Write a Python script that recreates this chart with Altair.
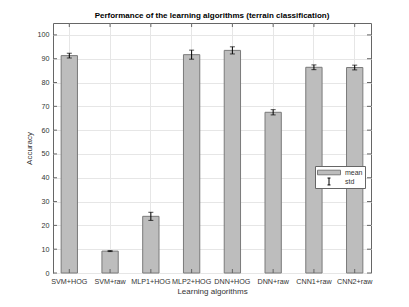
import altair as alt
import pandas as pd

algorithms = ["SVM+HOG", "SVM+raw", "MLP1+HOG", "MLP2+HOG", "DNN+HOG", "DNN+raw", "CNN1+raw", "CNN2+raw"]
mean_acc = [91.3, 9.2, 23.8, 91.7, 93.5, 67.5, 86.4, 86.3]
std_acc = [1.0, 0.2, 1.7, 1.9, 1.5, 1.1, 1.0, 1.0]
y_ticks = list(range(0, 101, 10))
legend_items = ["mean", "std"]

W, H = 318, 250
FONT = "Liberation Sans"
TXT = "#333333"
FRAME = "#666666"
GRID = "#e6e6e6"

df = pd.DataFrame({"alg": algorithms, "mean": mean_acc, "std": std_acc})
df["lo"] = df["mean"] - df["std"]
df["hi"] = df["mean"] + df["std"]
ytk = pd.DataFrame({"v": y_ticks})
leg = pd.DataFrame({"series": legend_items})

xscale = alt.Scale(domain=algorithms, paddingInner=0.6, paddingOuter=0.2)
yscale = alt.Scale(domain=[0, 105], nice=False)

xaxis = alt.Axis(title="Learning algorithms", labelAngle=0, ticks=False, grid=True,
                 bandPosition=0.5, domain=False, labelFontSize=7.2, titleFontSize=8,
                 labelPadding=4, titlePadding=3, gridColor=GRID, labelColor=TXT,
                 titleColor=TXT, titleFontWeight="normal", labelOverlap=False)
yaxis = alt.Axis(values=y_ticks, title="Accuracy", ticks=False, grid=True, domain=False,
                 labelFontSize=7.2, titleFontSize=8, labelPadding=4, titlePadding=4,
                 gridColor=GRID, labelColor=TXT, titleColor=TXT, titleFontWeight="normal")

def X():
    return alt.X("alg:N", sort=algorithms, scale=xscale, axis=xaxis, title="Learning algorithms")

def Y(field):
    return alt.Y(field + ":Q", scale=yscale, axis=yaxis, title="Accuracy")

base = alt.Chart(df)

bars = base.mark_bar(fill="#bdbdbd", stroke="#7a7a7a", strokeWidth=1).encode(x=X(), y=Y("mean"))

err = base.mark_rule(color="black", strokeWidth=1).encode(x=X(), y=Y("lo"), y2="hi:Q")
cap_lo = base.mark_tick(color="black", size=5, thickness=1).encode(x=X(), y=Y("lo"))
cap_hi = base.mark_tick(color="black", size=5, thickness=1).encode(x=X(), y=Y("hi"))

tick_top = base.mark_rule(color=FRAME, strokeWidth=1).encode(
    x=X(), y=alt.value(0), y2=alt.value(4))
tick_bot = base.mark_rule(color=FRAME, strokeWidth=1).encode(
    x=X(), y=alt.value(H), y2=alt.value(H - 4))
tick_left = alt.Chart(ytk).mark_rule(color=FRAME, strokeWidth=1).encode(
    y=Y("v"), x=alt.value(0), x2=alt.value(4))
tick_right = alt.Chart(ytk).mark_rule(color=FRAME, strokeWidth=1).encode(
    y=Y("v"), x=alt.value(W), x2=alt.value(W - 4))

rect_path = "M-1,-0.2H1V0.2H-1Z"
i_path = "M-0.13,-0.3H0.13M0,-0.3V0.3M-0.13,0.3H0.13"
legend = alt.Legend(title=None, orient="none", legendX=262, legendY=143, fillColor="white",
                    strokeColor=FRAME, padding=2, labelFontSize=7, labelColor=TXT, labelOffset=4,
                    clipHeight=9, rowPadding=0, symbolSize=529, symbolStrokeWidth=1,
                    symbolOpacity=1)
leg_layer = alt.Chart(leg).mark_point(filled=True, clip=True, size=529, strokeWidth=1).encode(
    x=alt.value(-100), y=alt.value(-100),
    shape=alt.Shape("series:N", scale=alt.Scale(domain=legend_items, range=[rect_path, i_path]),
                    legend=legend),
    fill=alt.Fill("series:N", scale=alt.Scale(domain=legend_items, range=["#bdbdbd", "black"]),
                  legend=legend),
    stroke=alt.Stroke("series:N", scale=alt.Scale(domain=legend_items, range=["#7a7a7a", "black"]),
                      legend=legend),
)

chart = alt.layer(bars, err, cap_lo, cap_hi, tick_top, tick_bot, tick_left, tick_right, leg_layer).properties(
    width=W, height=H,
    autosize=alt.AutoSizeParams(type="none"),
    padding={"left": 45, "top": 15, "right": 30, "bottom": 26},
    title=alt.Title("Performance of the learning algorithms (terrain classification)",
                    fontSize=8, fontWeight="bold", font=FONT, color="black", offset=3),
).configure(font=FONT).configure_view(stroke=FRAME, strokeWidth=1)

chart.save("out.html", embed_options={"renderer": "svg", "actions": False})
